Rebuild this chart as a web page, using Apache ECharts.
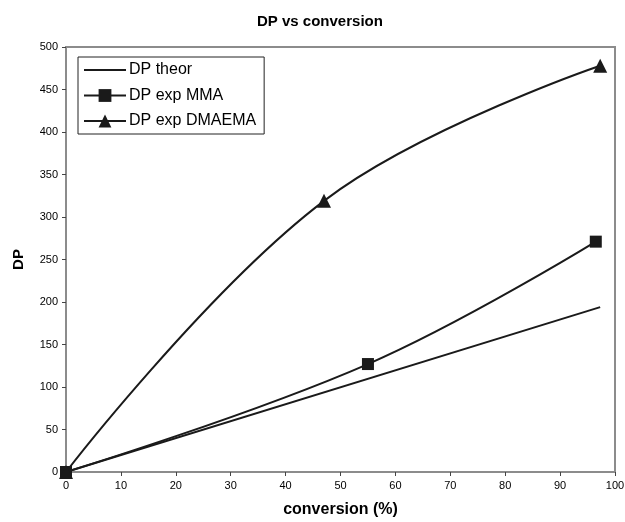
<!DOCTYPE html>
<html lang="en">
<head>
    <meta charset="UTF-8">
    <title>DP vs conversion</title>
    <script src="https://cdn.jsdelivr.net/npm/echarts@6/dist/echarts.min.js"></script>
</head>
<body style="margin:0;background:#fff;">
<div id="dpChart" style="width: 625px;height: 522px;"></div>
<script type="text/javascript">
    // data
    var theorData = [[0, 0], [97.3, 194]]
    var mmaData = [[0, 0], [55, 127], [96.5, 271]]
    var dmaemaData = [[0, 0], [47, 319], [97.3, 478]]
    var seriesNames = ['DP theor', 'DP exp MMA', 'DP exp DMAEMA']

    var dpChart = echarts.init(document.getElementById("dpChart"))

    var axisGray = '#8c8c8c'
    var font = 'Liberation Sans, Arial, sans-serif'

    var option = {
        backgroundColor: '#fff',
        animation: false,
        title: {
            text: 'DP vs conversion',
            left: 252,
            top: 9,
            textStyle: {fontSize: 15, fontWeight: 'bold', color: '#000', fontFamily: font}
        },
        legend: {
            orient: 'vertical',
            left: 78,
            top: 57,
            padding: [5, 8, 5, 5],
            itemGap: 9.5,
            itemWidth: 42,
            itemHeight: 16,
            borderColor: '#222',
            borderWidth: 1,
            data: [
                // theor line has no marker, hide the legend symbol
                {name: seriesNames[0], itemStyle: {opacity: 0}},
                seriesNames[1],
                seriesNames[2]
            ],
            textStyle: {fontSize: 16, color: '#000', fontFamily: font, padding: [0, 0, 0, -2]}
        },
        grid: {
            left: 66,
            right: 10,
            top: 47,
            bottom: 50,
            outerBoundsMode: 'none',
            show: true,
            borderColor: axisGray,
            borderWidth: 2
        },
        xAxis: {
            type: 'value',
            min: 0,
            max: 100,
            interval: 10,
            name: 'conversion (%)',
            nameLocation: 'middle',
            nameGap: 30,
            nameTextStyle: {fontSize: 16, fontWeight: 'bold', color: '#000', fontFamily: font},
            axisLine: {lineStyle: {color: axisGray, width: 2}},
            axisTick: {length: 4, lineStyle: {color: '#444'}},
            axisLabel: {fontSize: 11, color: '#000', fontFamily: font, margin: 8},
            splitLine: {show: false}
        },
        yAxis: {
            type: 'value',
            min: 0,
            max: 500,
            interval: 50,
            name: 'DP',
            nameLocation: 'middle',
            nameGap: 40,
            nameTextStyle: {fontSize: 15, fontWeight: 'bold', color: '#000', fontFamily: font},
            axisLine: {show: true, lineStyle: {color: axisGray, width: 2}},
            axisTick: {show: true, length: 4, lineStyle: {color: '#444'}},
            axisLabel: {fontSize: 11, color: '#000', fontFamily: font, margin: 8},
            splitLine: {show: false}
        },
        series: [
            {
                name: seriesNames[0],
                type: 'line',
                data: theorData,
                symbol: 'none',
                lineStyle: {color: '#1a1a1a', width: 2},
                itemStyle: {color: '#1a1a1a'}
            },
            {
                name: seriesNames[1],
                type: 'line',
                data: mmaData,
                smooth: 0.4,
                symbol: 'rect',
                symbolSize: 12,
                lineStyle: {color: '#1a1a1a', width: 2},
                itemStyle: {color: '#1a1a1a'}
            },
            {
                name: seriesNames[2],
                type: 'line',
                data: dmaemaData,
                smooth: 0.4,
                symbol: 'triangle',
                symbolSize: 14,
                lineStyle: {color: '#1a1a1a', width: 2},
                itemStyle: {color: '#1a1a1a'}
            }
        ]
    }

    dpChart.setOption(option)
</script>
</body>
</html>
